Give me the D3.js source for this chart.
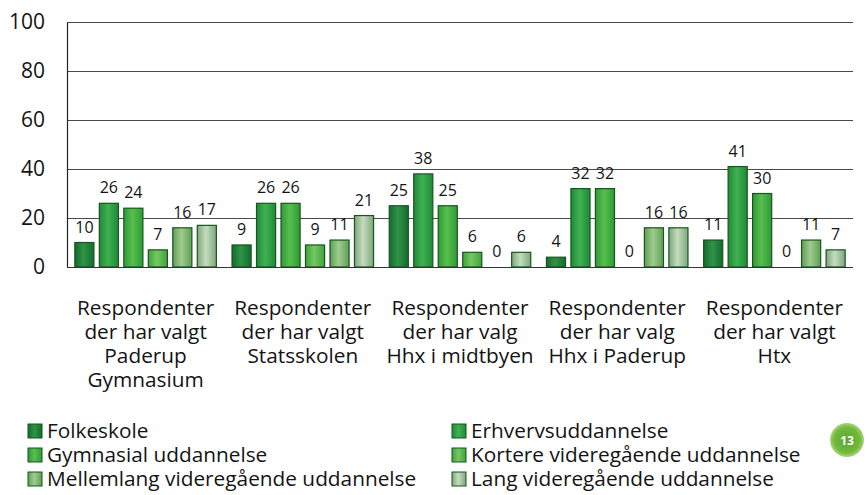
<!DOCTYPE html>
<html>
<head>
<meta charset="utf-8">
<script src="https://cdn.jsdelivr.net/npm/d3@7"></script>
<style>
  html, body { margin: 0; padding: 0; background: #ffffff; }
  svg { display: block; }
  text { font-family: "Open Sans", "Noto Sans", sans-serif; fill: #141414; }
</style>
</head>
<body>
<svg id="chart" width="867" height="495"></svg>
<script>
const categories = [
  ["Respondenter", "der har valgt", "Paderup", "Gymnasium"],
  ["Respondenter", "der har valgt", "Statsskolen"],
  ["Respondenter", "der har valg", "Hhx i midtbyen"],
  ["Respondenter", "der har valg", "Hhx i Paderup"],
  ["Respondenter", "der har valgt", "Htx"]
];
const seriesNames = [
  "Folkeskole",
  "Erhvervsuddannelse",
  "Gymnasial uddannelse",
  "Kortere videregående uddannelse",
  "Mellemlang videregående uddannelse",
  "Lang videregående uddannelse"
];
const folkeskole   = [10, 9, 25, 4, 11];
const erhverv      = [26, 26, 38, 32, 41];
const gymnasial    = [24, 26, 25, 32, 30];
const kortere      = [7, 9, 6, 0, 0];
const mellemlang   = [16, 11, 0, 16, 11];
const lang         = [17, 21, 6, 16, 7];
const yTicks = [0, 20, 40, 60, 80, 100];

const seriesValues = [folkeskole, erhverv, gymnasial, kortere, mellemlang, lang];
// colours: [edge, centre] of each bar's horizontal gradient
const seriesColors = [
  ["#146b2c", "#2f9447"],
  ["#1f8a36", "#3fb152"],
  ["#2f9a36", "#58bf4e"],
  ["#3fa23c", "#74c862"],
  ["#5f9e57", "#9fcc8e"],
  ["#7fa67c", "#c3dcbf"]
];
const strokeCol = "#17561f";

const svg = d3.select("#chart");
const defs = svg.append("defs");
seriesColors.forEach((c, i) => {
  const g = defs.append("linearGradient").attr("id", "g" + i)
    .attr("x1", "0%").attr("x2", "100%").attr("y1", "0%").attr("y2", "0%");
  g.append("stop").attr("offset", "0%").attr("stop-color", c[0]);
  g.append("stop").attr("offset", "45%").attr("stop-color", c[1]);
  g.append("stop").attr("offset", "100%").attr("stop-color", c[0]);
});

const mLeft = 67, mRight = 853, mTop = 22, mBottom = 267;
const x0 = d3.scaleBand().domain(d3.range(categories.length)).range([mLeft, mRight]).padding(0);
const x1 = d3.scaleBand().domain(d3.range(seriesNames.length)).range([0, x0.bandwidth()])
  .paddingInner(0.22).paddingOuter(0.32);
const y = d3.scaleLinear().domain([0, 100]).range([mBottom, mTop]);

// gridlines
svg.append("g").selectAll("line").data(yTicks.filter(t => t > 0)).join("line")
  .attr("x1", mLeft).attr("x2", mRight)
  .attr("y1", d => y(d) + 0.5).attr("y2", d => y(d) + 0.5)
  .attr("stroke", "#4a4a4a").attr("stroke-width", 1.1);

// y axis
const yAxis = svg.append("g").attr("transform", `translate(${mLeft},0)`)
  .call(d3.axisLeft(y).tickValues(yTicks).tickSize(0).tickPadding(22));
yAxis.select(".domain").attr("stroke", "#222").attr("stroke-width", 1.2);
yAxis.selectAll("text").attr("font-size", 21).attr("font-family", "Open Sans").attr("fill", "#141414");

// bars
const groups = svg.append("g").selectAll("g").data(categories).join("g")
  .attr("transform", (d, i) => `translate(${x0(i)},0)`);
groups.each(function(cat, ci) {
  const g = d3.select(this);
  const vals = seriesValues.map((s, si) => ({ si, v: s[ci] }));
  g.selectAll("rect").data(vals.filter(d => d.v > 0)).join("rect")
    .attr("x", d => x1(d.si)).attr("width", x1.bandwidth())
    .attr("y", d => y(d.v)).attr("height", d => y(0) - y(d.v))
    .attr("fill", d => `url(#g${d.si})`)
    .attr("stroke", strokeCol).attr("stroke-width", 1.2);
  g.selectAll("text.lbl").data(vals).join("text").attr("class", "lbl")
    .attr("x", d => x1(d.si) + x1.bandwidth() / 2)
    .attr("y", d => y(d.v) - 10)
    .attr("text-anchor", "middle").attr("font-size", 16)
    .text(d => d.v);
});

// baseline
svg.append("line").attr("x1", mLeft).attr("x2", mRight)
  .attr("y1", y(0) + 0.5).attr("y2", y(0) + 0.5)
  .attr("stroke", "#333").attr("stroke-width", 1.2);

// category labels
categories.forEach((lines, i) => {
  const t = svg.append("text").attr("text-anchor", "middle").attr("font-size", 20.8)
    .attr("x", x0(i) + x0.bandwidth() / 2).attr("y", 315);
  lines.forEach((ln, k) => t.append("tspan")
    .attr("x", x0(i) + x0.bandwidth() / 2).attr("dy", k === 0 ? 0 : 24).text(ln));
});

// legend
const legend = svg.append("g");
seriesNames.forEach((name, i) => {
  const col = i % 2, row = Math.floor(i / 2);
  const lx = col === 0 ? 28 : 452;
  const ly = 431 + row * 24;
  legend.append("rect").attr("x", lx).attr("y", ly - 7).attr("width", 14).attr("height", 14)
    .attr("fill", `url(#g${i})`).attr("stroke", strokeCol).attr("stroke-width", 1);
  legend.append("text").attr("x", lx + 19).attr("y", ly + 7).attr("font-size", 20.8).text(name);
});

// page badge
const badge = svg.append("g").attr("transform", "translate(847,440)");
const rg = defs.append("radialGradient").attr("id", "badge");
rg.append("stop").attr("offset", "0%").attr("stop-color", "#58a52c");
rg.append("stop").attr("offset", "75%").attr("stop-color", "#72ba3c");
rg.append("stop").attr("offset", "100%").attr("stop-color", "#a9d47f");
badge.append("circle").attr("r", 17).attr("fill", "url(#badge)");
badge.append("text").attr("text-anchor", "middle").attr("y", 4.5).attr("font-size", 12)
  .attr("font-weight", "bold").style("fill", "#fff").text("13");
</script>
</body>
</html>
